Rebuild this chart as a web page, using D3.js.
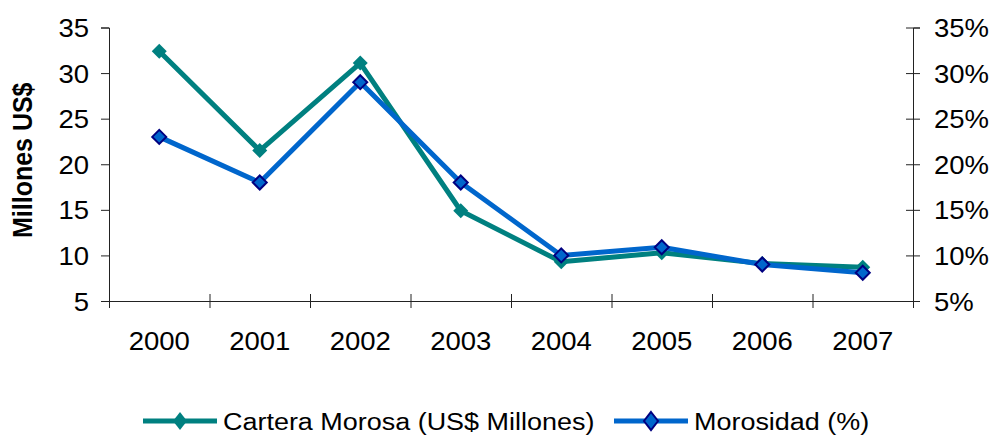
<!DOCTYPE html>
<html>
<head>
<meta charset="utf-8">
<script src="https://cdn.jsdelivr.net/npm/d3@7"></script>
<style>
  html, body { margin: 0; padding: 0; background: #fff; }
  svg { display: block; }
  text { font-family: "Liberation Sans", Arial, sans-serif; fill: #000; }
</style>
</head>
<body>
<svg id="chart" width="993" height="436"></svg>
<script>
const years = ["2000", "2001", "2002", "2003", "2004", "2005", "2006", "2007"];
const carteraMorosa = [32.4, 21.5, 31.1, 14.9, 9.3, 10.3, 9.1, 8.7];
const morosidad = [23, 18, 29, 18, 10, 10.9, 9, 8.1];
const leftTicks = [5, 10, 15, 20, 25, 30, 35];
const rightTicks = [5, 10, 15, 20, 25, 30, 35];
const seriesNames = ["Cartera Morosa (US$ Millones)", "Morosidad (%)"];
const yTitle = "Millones US$";

const plotL = 109, plotR = 913, plotT = 27.5, plotB = 301;
const FS = 25, SX = 1.1;
const teal = "#008080", blue = "#0066CC", navy = "#000080", axisCol = "#222";

const svg = d3.select("#chart");

const xBand = d3.scaleBand().domain(years).range([plotL, plotR]).padding(0);
const xPos = d => xBand(d) + xBand.bandwidth() / 2;
const yL = d3.scaleLinear().domain([5, 35]).range([plotB, plotT]);
const yR = d3.scaleLinear().domain([5, 35]).range([plotB, plotT]);

function stretchedText(g, x, y, txt, anchor, fs) {
  return g.append("text")
    .attr("transform", `translate(${x},${y}) scale(${SX},1)`)
    .attr("text-anchor", anchor)
    .attr("dominant-baseline", "central")
    .style("font-size", (fs || FS) + "px")
    .text(txt);
}

// Left axis
const gL = svg.append("g").attr("transform", `translate(${plotL},0)`)
  .call(d3.axisLeft(yL).tickValues(leftTicks).tickSize(8).tickFormat(""));
gL.select(".domain").attr("stroke", axisCol);
gL.selectAll(".tick line").attr("stroke", axisCol);
leftTicks.forEach(v => stretchedText(svg, 89, yL(v) + 1, d3.format("d")(v), "end"));

// Right axis
const gR = svg.append("g").attr("transform", `translate(${plotR},0)`)
  .call(d3.axisRight(yR).tickValues(rightTicks).tickSize(7).tickFormat(""));
gR.select(".domain").attr("stroke", axisCol);
gR.selectAll(".tick line").attr("stroke", axisCol).attr("x1", -7);
rightTicks.forEach(v => stretchedText(svg, 934, yR(v) + 1, v + "%", "start"));

// X axis
const xEdges = d3.scaleLinear().domain([0, years.length]).range([plotL, plotR]);
const gX = svg.append("g").attr("transform", `translate(0,${plotB})`)
  .call(d3.axisBottom(xEdges).tickValues(d3.range(0, years.length + 1)).tickSize(7).tickFormat("").tickSizeOuter(0));
gX.select(".domain").attr("stroke", axisCol);
gX.selectAll(".tick line").attr("stroke", axisCol).attr("y1", -7);
years.forEach(y => stretchedText(svg, xPos(y), 341, y, "middle"));

// Y title
svg.append("text")
  .attr("transform", `translate(23,${(plotT + plotB) / 2 - 4}) rotate(-90) scale(1,${SX})`)
  .attr("text-anchor", "middle")
  .attr("dominant-baseline", "central")
  .style("font-size", "25px")
  .style("font-weight", "bold")
  .text(yTitle);

// Lines
const lineL = d3.line().x((d, i) => xPos(years[i])).y(d => yL(d));
const lineR = d3.line().x((d, i) => xPos(years[i])).y(d => yR(d));
const diamond = (cx, cy, r) => `M${cx},${cy - r}L${cx + r},${cy}L${cx},${cy + r}L${cx - r},${cy}Z`;

svg.append("path").datum(carteraMorosa).attr("d", lineL)
  .attr("fill", "none").attr("stroke", teal).attr("stroke-width", 5).attr("stroke-linejoin", "round");
svg.selectAll(".mT").data(carteraMorosa).join("path").attr("class", "mT")
  .attr("d", (d, i) => diamond(xPos(years[i]), yL(d), 7.5))
  .attr("fill", teal);

svg.append("path").datum(morosidad).attr("d", lineR)
  .attr("fill", "none").attr("stroke", blue).attr("stroke-width", 5).attr("stroke-linejoin", "round");
svg.selectAll(".mB").data(morosidad).join("path").attr("class", "mB")
  .attr("d", (d, i) => diamond(xPos(years[i]), yR(d), 7))
  .attr("fill", blue).attr("stroke", navy).attr("stroke-width", 2);

// Legend
const ly = 421;
const lg = svg.append("g");
lg.append("line").attr("x1", 143).attr("x2", 217).attr("y1", ly).attr("y2", ly).attr("stroke", teal).attr("stroke-width", 5);
lg.append("path").attr("d", `M180,${ly - 9}L187,${ly}L180,${ly + 9}L173,${ly}Z`).attr("fill", teal);
stretchedText(lg, 223, ly, seriesNames[0], "start", 24.5);
lg.append("line").attr("x1", 614).attr("x2", 688).attr("y1", ly).attr("y2", ly).attr("stroke", blue).attr("stroke-width", 5);
lg.append("path").attr("d", `M651,${ly - 9}L658,${ly}L651,${ly + 9}L644,${ly}Z`).attr("fill", blue).attr("stroke", navy).attr("stroke-width", 2);
stretchedText(lg, 694, ly, seriesNames[1], "start", 24.5);
</script>
</body>
</html>
